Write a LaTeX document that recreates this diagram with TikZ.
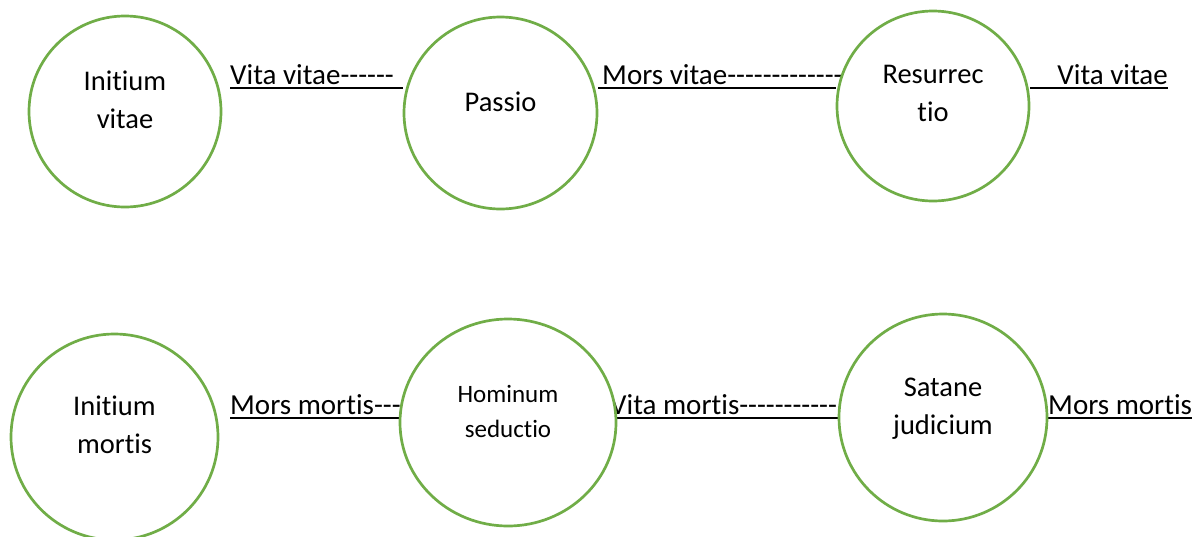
\documentclass[tikz,border=0pt]{standalone}
\usepackage{fontspec}
\setmainfont{Carlito}[Ligatures={TeXOff, CommonOff}]
\usepackage{tikz}
\usetikzlibrary{shapes.geometric, backgrounds, positioning}
\definecolor{ringgreen}{RGB}{112, 173, 71}
\tikzset{
    ringnode/.style = {draw=ringgreen, line width=2.7pt, fill=white, ellipse, inner sep=0pt},
    ringtext/.style = {align=center, inner sep=0pt, text depth=0pt, font=\fontsize{28.5}{38}\selectfont},
    smallringtext/.style = {ringtext, font=\fontsize{25}{35}\selectfont},
    linknode/.style = {anchor=base west, inner xsep=0pt, inner ysep=4pt, text depth=0pt,
      font=\fontsize{29}{35}\selectfont},
    underl/.style = {black, line width=1.9pt}
}

\begin{document}
\begin{tikzpicture}[x=1pt, y=-1pt]
\useasboundingbox (0,0) rectangle (1202,536);
\node [name=initv, ringnode, minimum width=192pt, minimum height=191pt] at (125,111.5) {};
\node [name=passio, ringnode, minimum width=193pt, minimum height=192pt] at (500.5,113) {};
\node [name=resur, ringnode, minimum width=192pt, minimum height=190pt] at (933,106) {};
\node [name=initm, ringnode, minimum width=207pt, minimum height=206pt] at (114.5,437) {};
\node [name=homin, ringnode, minimum width=216pt, minimum height=207pt] at (508,422.5) {};
\node [name=satan, ringnode, minimum width=208pt, minimum height=207pt] at (943,417.5) {};

\node [name=initvtext, ringtext, yshift=11.5pt] at (initv.center) {Initium\\vitae};
\node [name=passiotext, ringtext, yshift=11.5pt] at (passio.center) {Passio};
\node [name=resurtext, ringtext, yshift=13pt] at (resur.center) {Resurrec\\tio};
\node [name=initmtext, ringtext, yshift=12.5pt] at (initm.center) {Initium\\mortis};
\node [name=homintext, smallringtext, yshift=11pt] at (homin.center) {Hominum\\seductio};
\node [name=satantext, ringtext, yshift=11pt] at (satan.center) {Satane\\judicium};

\begin{scope}[on background layer]
\node [name=vv1, linknode] at (230,84) {Vita vitae------};
\node [name=mv, linknode] at (602,84) {Mors vitae-------------};
\node [name=vv2, linknode, anchor=base east] at (1168,84) {Vita vitae};
\node [name=mm1, linknode] at (230,414) {Mors mortis---};
\node [name=vm, linknode] at (610,414) {Vita mortis-----------};
\node [name=mm2, linknode] at (1048,414) {Mors mortis};

\draw [underl] (vv1.south west) -- (vv1.south west -| passio.west);
\draw [underl] (mv.south west -| passio.east) -- (mv.south west -| resur.west);
\draw [underl] (vv2.south east -| resur.east) -- (vv2.south east);
\draw [underl] (mm1.south west) -- (mm1.south west -| homin.west);
\draw [underl] (vm.south west -| homin.east) -- (vm.south west -| satan.west);
\draw [underl] (mm2.south west) -- (mm2.south east);
\end{scope}
\end{tikzpicture}
\end{document}
